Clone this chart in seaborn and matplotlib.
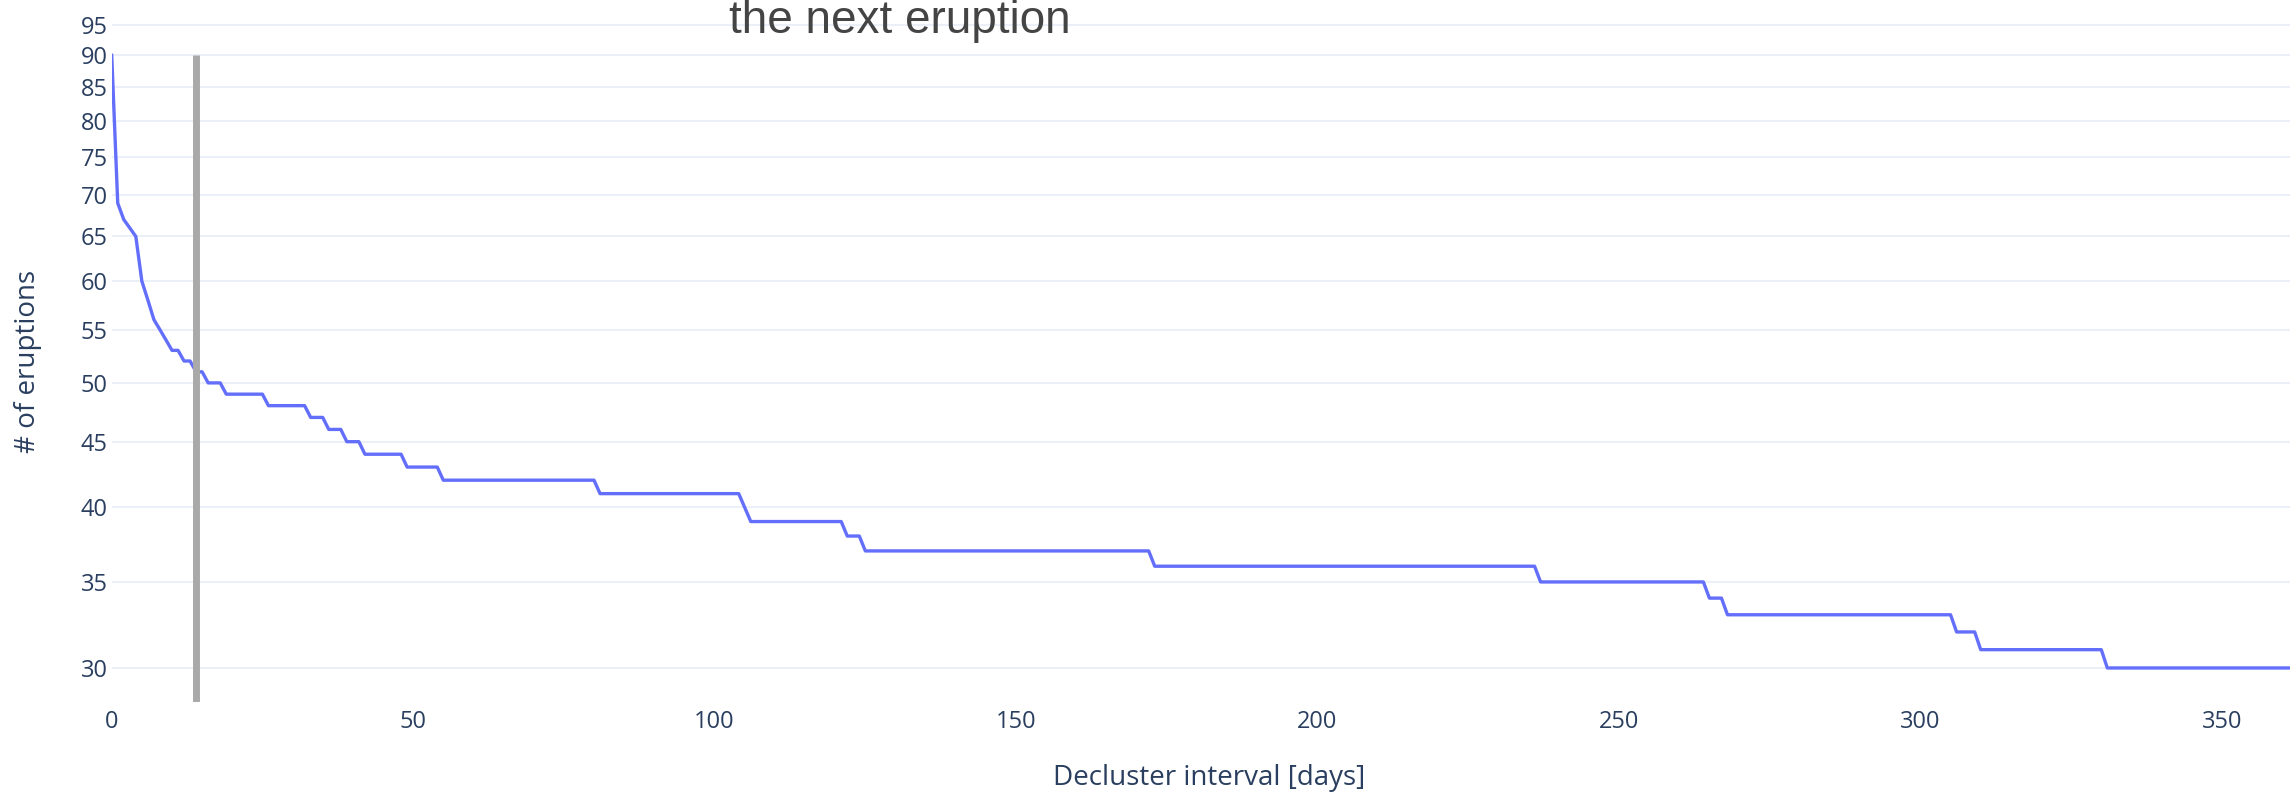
import matplotlib
matplotlib.use("Agg")
import matplotlib.pyplot as plt
from matplotlib.ticker import FixedLocator, FixedFormatter, NullLocator
import seaborn as sns

# Number of eruptions remaining after declustering, by declustering interval
days = [0, 1, 2, 3, 4, 5, 6, 7, 8, 9, 10, 11, 12, 13, 14, 15, 16, 18, 19,
        25, 26, 32, 33, 35, 36, 38, 39, 41, 42, 48, 49, 54, 55, 80, 81,
        104, 106, 121, 122, 124, 125, 172, 173, 236, 237, 264, 265, 267, 268,
        305, 306, 309, 310, 330, 331, 365]
counts = [90, 69, 67, 66, 65, 60, 58, 56, 55, 54, 53, 53, 52, 52, 51, 51, 50, 50, 49,
          49, 48, 48, 47, 47, 46, 46, 45, 45, 44, 44, 43, 43, 42, 42, 41,
          41, 39, 39, 38, 38, 37, 37, 36, 36, 35, 35, 34, 34, 33, 33,
          32, 32, 31, 31, 30, 30]

cutoff_day = 14

x_ticks = [0, 50, 100, 150, 200, 250, 300, 350]
y_ticks = [30, 35, 40, 45, 50, 55, 60, 65, 70, 75, 80, 85, 90, 95]

title_text = "the next eruption"
x_title = "Decluster interval [days]"
y_title = "# of eruptions"

sns.set_theme(style="white")
plt.rcParams["font.family"] = ["Open Sans", "DejaVu Sans"]

W, H, DPI = 2290, 794, 100
fig = plt.figure(figsize=(W / DPI, H / DPI), dpi=DPI)
ax = fig.add_axes([111.7 / W, (H - 701.7) / H, 1 - 111.7 / W, 701.7 / H])

tick_color = "#2a3f5f"
grid_color = "#EBF0F8"

ax.set_yscale("log")
y_low, y_high = 28.24, 99.3
ax.set_xlim(0, 361.3)
ax.set_ylim(y_low, y_high)

sns.lineplot(x=days, y=counts, ax=ax, color="#636EFA", linewidth=2.4,
             zorder=3, estimator=None)

ax.vlines(cutoff_day, y_low, max(counts), color="#a9a9a9", linewidth=5.0,
          zorder=4)

ax.xaxis.set_major_locator(FixedLocator(x_ticks))
ax.xaxis.set_major_formatter(FixedFormatter([str(t) for t in x_ticks]))
ax.yaxis.set_major_locator(FixedLocator(y_ticks))
ax.yaxis.set_major_formatter(FixedFormatter([str(t) for t in y_ticks]))
ax.yaxis.set_minor_locator(NullLocator())
ax.xaxis.set_minor_locator(NullLocator())

ax.grid(False)
ax.yaxis.grid(True, color=grid_color, linewidth=1.5, zorder=0)
ax.set_axisbelow(True)
for s in ax.spines.values():
    s.set_visible(False)

ax.tick_params(axis="both", length=0, labelsize=17, labelcolor=tick_color)
ax.tick_params(axis="y", pad=3)
ax.tick_params(axis="x", pad=6)
ax.set_xlabel("")
ax.set_ylabel("")

fig.text(1209 / W, 1 - 778 / H, x_title, ha="center", va="center",
         fontsize=20, color=tick_color)
fig.text(28 / W, 1 - 361 / H, y_title, ha="center", va="center",
         rotation=90, fontsize=20, color=tick_color)
fig.text(900 / W, 1 - 33 / H, title_text, ha="center", va="baseline",
         fontsize=33, color="#444444", family=["Liberation Sans", "DejaVu Sans"])

fig.savefig("out.png", dpi=DPI, facecolor="white")
